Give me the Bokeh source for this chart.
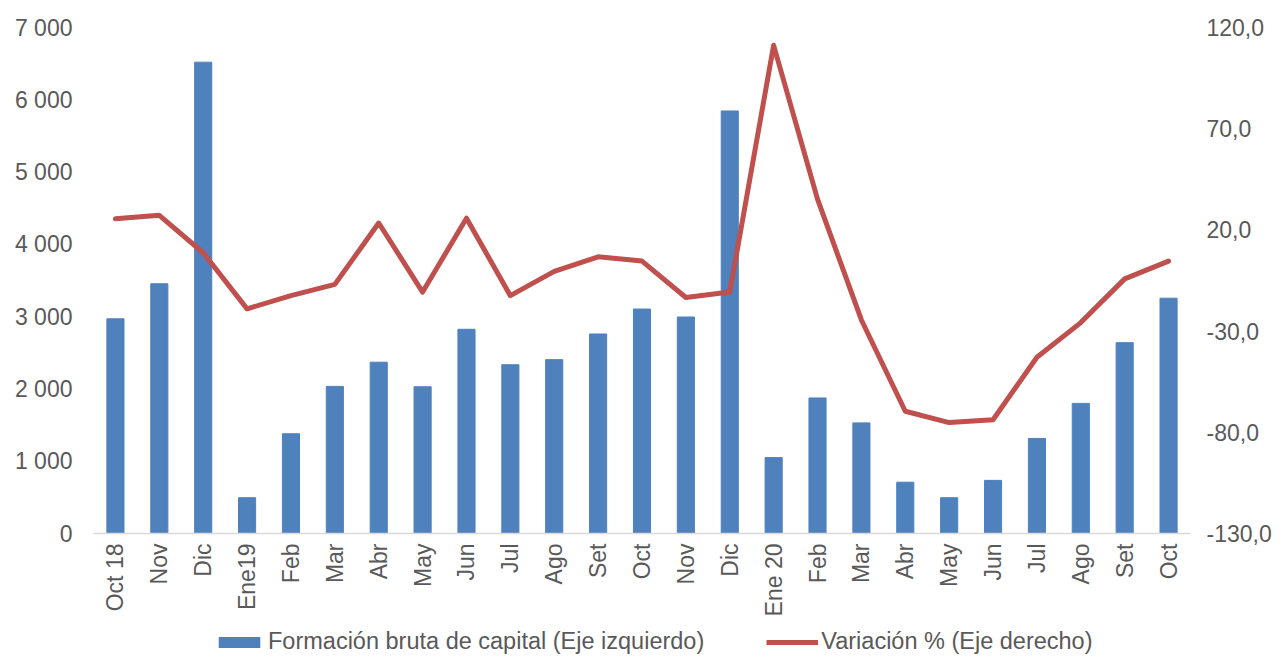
import math
from bokeh.plotting import figure
from bokeh.layouts import column
from bokeh.models import Range1d, LinearAxis, FixedTicker, Legend, LegendItem
from bokeh.embed import file_html
from bokeh.resources import INLINE

# ---- data ----
months = ["Oct 18", "Nov", "Dic", "Ene19", "Feb", "Mar", "Abr", "May", "Jun", "Jul",
          "Ago", "Set", "Oct", "Nov", "Dic", "Ene 20", "Feb", "Mar", "Abr", "May",
          "Jun", "Jul", "Ago", "Set", "Oct"]
fbk = [2970, 3455, 6520, 495, 1380, 2035, 2370, 2030, 2825, 2335,
       2405, 2760, 3105, 2995, 5845, 1050, 1875, 1530, 710, 495,
       735, 1315, 1800, 2640, 3255]
variacion = [25.5, 27.2, 8.7, -19.0, -12.5, -6.9, 23.4, -10.7, 25.8, -12.5,
             -0.5, 6.7, 4.6, -13.4, -10.7, 111.2, 35.2, -24.5, -69.6, -75.2,
             -73.8, -42.9, -25.8, -4.2, 4.6]
left_ticks = [0, 1000, 2000, 3000, 4000, 5000, 6000, 7000]
left_labels = ["0", "1 000", "2 000", "3 000", "4 000", "5 000", "6 000", "7 000"]
right_ticks = [-130, -80, -30, 20, 70, 120]
right_labels = ["-130,0", "-80,0", "-30,0", "20,0", "70,0", "120,0"]
series_names = ["Formación bruta de capital (Eje izquierdo)", "Variación % (Eje derecho)"]

x = list(range(len(months)))

FONT = "Liberation Sans"
FS = "23px"
TXT = "#595959"
BAR_COLOR = "#4F81BD"
LINE_COLOR = "#C0504D"

p = figure(frame_width=1097, frame_height=506, output_backend="svg", toolbar_location=None,
           x_range=Range1d(-0.5, len(months) - 0.5), y_range=Range1d(0, 7000),
           min_border_left=93, min_border_right=82, min_border_top=27, min_border_bottom=86)
p.extra_y_ranges = {"pct": Range1d(-130, 120)}
p.outline_line_color = None
p.xgrid.visible = False
p.ygrid.visible = False
p.background_fill_color = "white"
p.border_fill_color = "white"


def style_axis(ax, standoff):
    ax.major_tick_line_color = None
    ax.minor_tick_line_color = None
    ax.major_tick_out = 0
    ax.major_tick_in = 0
    ax.minor_tick_out = 0
    ax.minor_tick_in = 0
    ax.major_label_standoff = standoff
    ax.major_label_text_font = FONT
    ax.major_label_text_font_size = FS
    ax.major_label_text_color = TXT


# left axis
ya = p.yaxis[0]
ya.ticker = FixedTicker(ticks=left_ticks)
ya.major_label_overrides = {t: l for t, l in zip(left_ticks, left_labels)}
ya.axis_line_color = None
style_axis(ya, 21)

# right axis
ra = LinearAxis(y_range_name="pct")
ra.ticker = FixedTicker(ticks=right_ticks)
ra.major_label_overrides = {t: l for t, l in zip(right_ticks, right_labels)}
ra.axis_line_color = None
style_axis(ra, 16)
p.add_layout(ra, "right")

# x axis
xa = p.xaxis[0]
xa.ticker = FixedTicker(ticks=x)
xa.major_label_overrides = {i: m for i, m in zip(x, months)}
xa.major_label_orientation = math.pi / 2
xa.axis_line_color = "#D9D9D9"
xa.axis_line_width = 1.5
style_axis(xa, 10)

bars = p.vbar(x=x, top=fbk, bottom=0, width=0.39, fill_color=BAR_COLOR, line_color=BAR_COLOR)
line = p.line(x=x, y=variacion, y_range_name="pct", line_color=LINE_COLOR, line_width=5,
              line_join="round", line_cap="round")

# ---- legend strip (separate small figure below the chart; its frame aligns with the chart's) ----
pl = figure(width=1272, height=36, output_backend="svg", toolbar_location=None,
            x_range=Range1d(0, 1), y_range=Range1d(0, 1),
            x_axis_type=None, y_axis_type=None, min_border=0)
pl.outline_line_color = None
pl.xgrid.visible = False
pl.ygrid.visible = False
# legend proxies: zero-size / far outside the visible range
lb = pl.vbar(x=[-50], top=[-50], bottom=[-50], width=0.0, fill_color=BAR_COLOR, line_color=None)
ll = pl.line(x=[-50, -49], y=[-50, -50], line_color=LINE_COLOR, line_width=5)

legend = Legend(items=[LegendItem(label=series_names[0], renderers=[lb]),
                       LegendItem(label=series_names[1], renderers=[ll])],
                location=(120, 0), orientation="horizontal",
                glyph_width=52, glyph_height=14, label_standoff=3, spacing=62,
                padding=0, margin=0, border_line_color=None, background_fill_alpha=0,
                label_text_font=FONT, label_text_font_size="23.5px", label_text_color=TXT)
pl.add_layout(legend)

open("out.html", "w").write(file_html(column(p, pl, spacing=0), INLINE))
